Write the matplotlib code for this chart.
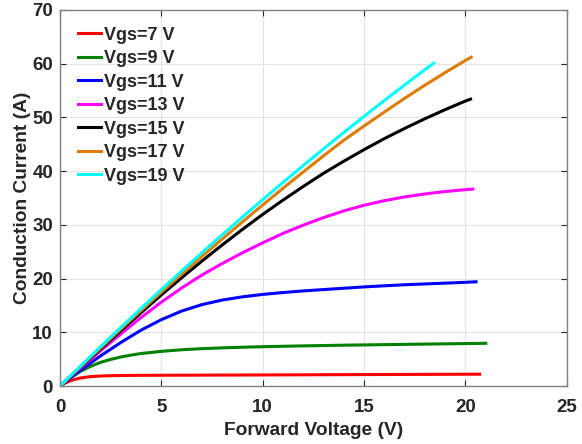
import matplotlib
matplotlib.use('Agg')
import matplotlib.pyplot as plt

plt.rcParams['font.family'] = ['Liberation Sans', 'DejaVu Sans']

# forward voltage (V) / conduction current (A)
x7 = [0, 0.25, 0.5, 0.75, 1, 1.25, 1.5, 2, 2.5, 3, 4, 5, 10, 15, 20.7]
i7 = [0, 0.55, 0.95, 1.25, 1.48, 1.63, 1.74, 1.86, 1.92, 1.96, 1.99, 2.0, 2.06, 2.13, 2.2]

x9 = [0, 0.5, 1, 1.5, 2, 2.5, 3, 3.5, 4, 5, 6, 7, 8, 9, 10, 12, 14, 16, 18, 20, 21]
i9 = [0, 1.5, 2.7, 3.65, 4.4, 4.95, 5.4, 5.75, 6.05, 6.45, 6.75, 6.95, 7.1, 7.22, 7.32,
      7.47, 7.6, 7.7, 7.8, 7.9, 7.95]

x11 = [0, 1, 2, 3, 4, 5, 6, 7, 8, 9, 10, 11, 12, 13, 14, 15, 16, 17, 18, 19, 20, 20.52]
i11 = [0, 2.9, 5.6, 8.1, 10.4, 12.35, 13.95, 15.15, 16.0, 16.6, 17.05, 17.4, 17.7, 17.95,
       18.2, 18.45, 18.65, 18.85, 19.0, 19.15, 19.3, 19.4]

x13 = [0, 1, 2, 3, 4, 5, 6, 7, 8, 9, 10, 11, 12, 13, 14, 15, 16, 17, 18, 19, 20, 20.36]
i13 = [0, 3.3, 6.55, 9.7, 12.75, 15.6, 18.25, 20.65, 22.8, 24.8, 26.65, 28.4, 29.95, 31.35,
       32.6, 33.65, 34.5, 35.2, 35.75, 36.2, 36.55, 36.65]

x15 = [0, 1, 2, 3, 4, 5, 6, 7, 8, 9, 10, 11, 12, 13, 14, 15, 16, 17, 18, 19, 20, 20.25]
i15 = [0, 3.45, 6.9, 10.3, 13.65, 16.95, 20.15, 23.25, 26.25, 29.15, 31.95, 34.6, 37.15,
       39.6, 41.85, 44.0, 46.05, 47.95, 49.75, 51.45, 53.05, 53.4]

x17 = [0, 1, 2, 3, 4, 5, 6, 7, 8, 9, 10, 11, 12, 13, 14, 15, 16, 17, 18, 19, 20, 20.28]
i17 = [0, 3.55, 7.1, 10.6, 14.05, 17.45, 20.8, 24.1, 27.35, 30.55, 33.7, 36.8, 39.85, 42.85,
       45.75, 48.4, 51.0, 53.55, 56.0, 58.35, 60.6, 61.2]

x19 = [0, 1, 2, 3, 4, 5, 6, 7, 8, 9, 10, 11, 12, 13, 14, 15, 16, 17, 18, 18.44]
i19 = [0, 3.65, 7.3, 10.9, 14.45, 17.95, 21.4, 24.8, 28.15, 31.45, 34.7, 37.9, 41.05, 44.15,
       47.2, 50.2, 53.15, 56.05, 58.9, 60.1]

labels = ['Vgs=7 V', 'Vgs=9 V', 'Vgs=11 V', 'Vgs=13 V', 'Vgs=15 V', 'Vgs=17 V', 'Vgs=19 V']
colors = ['#FF0000', '#008000', '#0000FF', '#FF00FF', '#000000', '#DE7C0A', '#00FFFF']

fig = plt.figure(figsize=(5.82, 4.44), dpi=100)
ax = fig.add_axes([0.103, 0.1306, 0.871, 0.847])

curves = [(x7, i7), (x9, i9), (x11, i11), (x13, i13), (x15, i15), (x17, i17), (x19, i19)]
for (xs, ys), lab, c in zip(curves, labels, colors):
    ax.plot(xs, ys, color=c, lw=2.2, label=lab, solid_joinstyle='round')

ax.set_xlim(0, 25)
ax.set_ylim(0, 70)
ax.set_xticks([0, 5, 10, 15, 20, 25])
ax.set_yticks([0, 10, 20, 30, 40, 50, 60, 70])
ax.grid(True, color='#e3e3e3', lw=0.8)
ax.set_axisbelow(True)
ax.tick_params(direction='in', top=True, right=True, length=4, width=0.8,
               colors='#262626', labelsize=13.5)
ax.tick_params(axis='x', pad=9)
ax.tick_params(axis='y', pad=5)
for lab in ax.get_xticklabels() + ax.get_yticklabels():
    lab.set_fontweight('bold')
for s in ax.spines.values():
    s.set_color('#808080')
    s.set_linewidth(1.0)

ax.set_xlabel('Forward Voltage (V)', fontsize=13.8, fontweight='bold', color='#262626', labelpad=5)
ax.set_ylabel('Conduction Current (A)', fontsize=13.8, fontweight='bold', color='#262626', labelpad=1)

leg = ax.legend(loc='upper left', frameon=False, prop={'weight': 'bold', 'size': 13},
                handlelength=1.25, handletextpad=0.15, labelspacing=0.36,
                borderaxespad=0.0, bbox_to_anchor=(0.022, 0.975))
for t in leg.get_texts():
    t.set_color('#262626')

fig.savefig('out.png', dpi=100)
